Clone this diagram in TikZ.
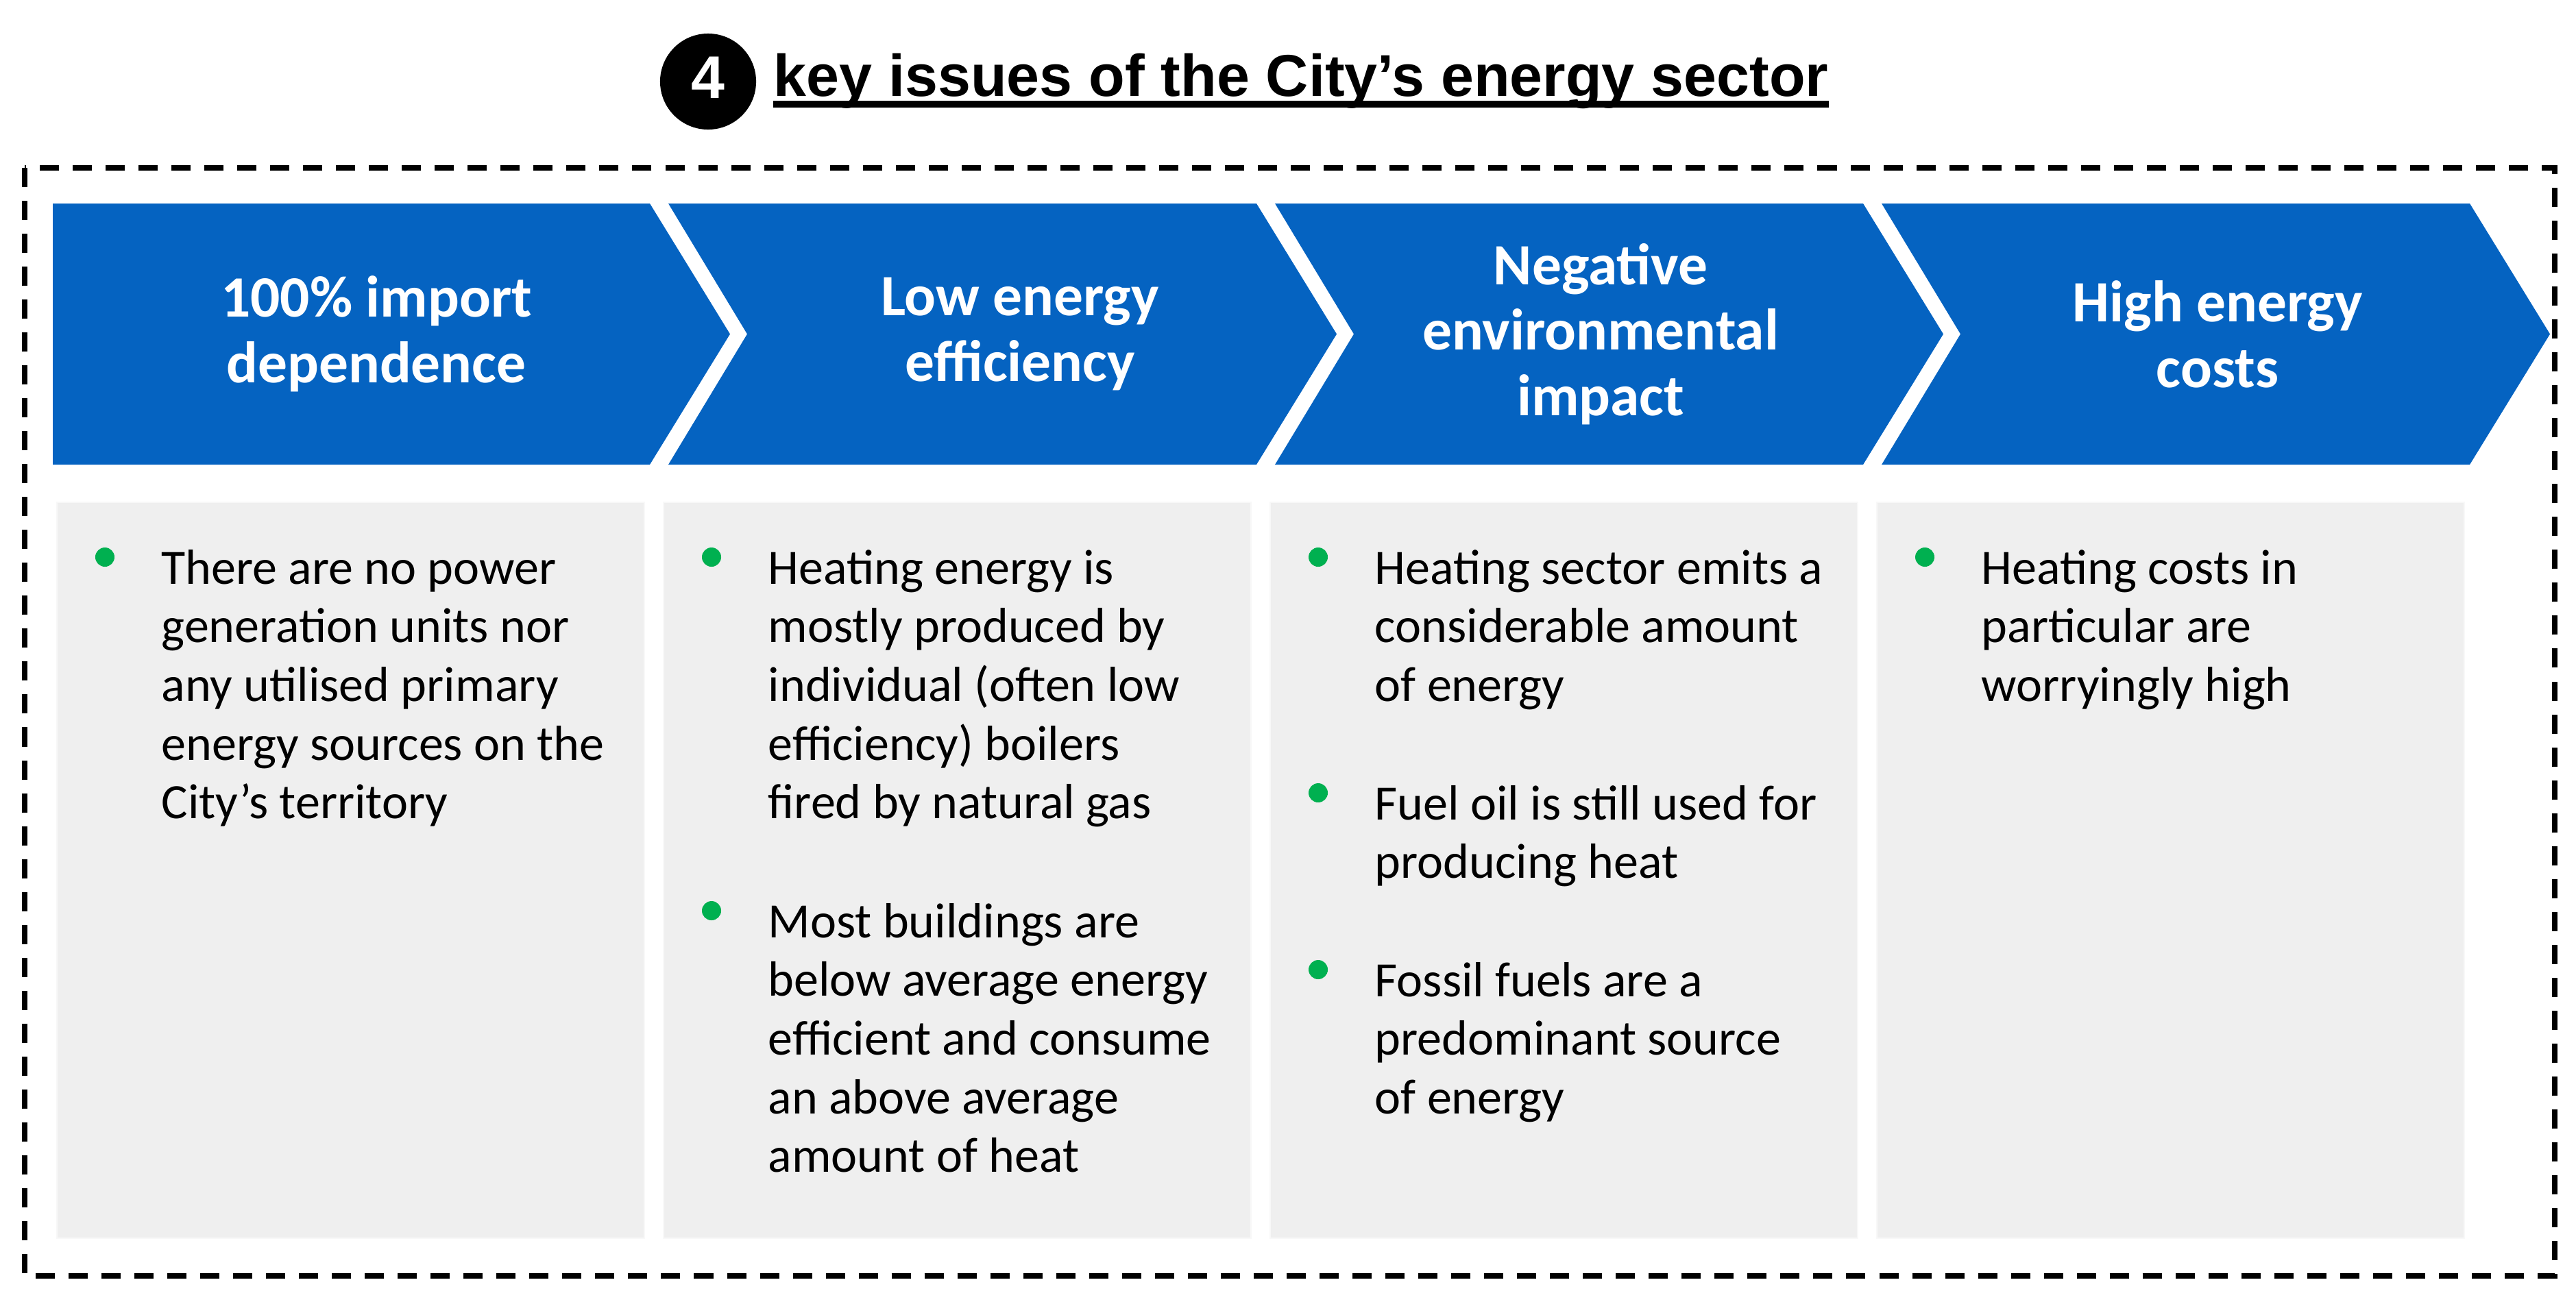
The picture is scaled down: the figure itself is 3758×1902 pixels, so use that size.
\documentclass[tikz,border=0pt]{standalone}
\usepackage{fontspec}
\setmainfont{Carlito}
\newfontfamily\titlefont{Liberation Sans}
\definecolor{chevblue}{HTML}{0563C1}
\definecolor{bulletgreen}{HTML}{00B050}
\definecolor{boxgrey}{HTML}{EFEFEF}
\definecolor{boxedge}{HTML}{F8F8F8}
\newcommand\toplines[1]{\begin{tabular}[t]{@{}l@{}}#1\end{tabular}}
\begin{document}
\begin{tikzpicture}[x=0.01cm,y=-0.01cm,
  chev/.style={fill=chevblue, draw=none},
  headtext/.style={text=white, font=\fontsize{24.3}{27.24}\selectfont\bfseries, align=center, inner sep=0pt},
  bodytext/.style={font=\fontsize{20.5}{24.38}\selectfont, anchor=base west, inner sep=0pt, text=black},
  bulletdot/.style={circle, fill=bulletgreen, minimum size=0.28cm, inner sep=0pt, draw=none},
  panel/.style={fill=boxgrey, draw=boxedge, line width=0.7pt},
  frame/.style={draw=black, line width=0.08cm, dash pattern=on 0.28cm off 0.2cm}]
\useasboundingbox (0,0) rectangle (3758,1902);

% title
\node[circle, fill=black, minimum size=1.4cm, inner sep=0pt] (num) at (1033,119) {};
\node[anchor=base, inner sep=0pt, text=white, font=\titlefont\bfseries\fontsize{25}{30}\selectfont] (numtxt) at (1033,143) {4};
\node[anchor=base west, inner sep=0pt, font=\titlefont\bfseries\fontsize{24.5}{29}\selectfont] (title) at (1128,140) {key issues of the City’s energy sector};
\draw[line width=0.1cm] ([yshift=-0.12cm]title.base west) -- ([yshift=-0.12cm]title.base east);

% dashed frame
\draw[frame] (36,245) rectangle (3727,1862);

% chevrons
\fill[chev] (77,297) -- (948,297) -- (1065,487.5) -- (948,678) -- (77,678) -- cycle;
\foreach \i in {0,1,2}{
  \fill[chev] ({975+885*\i},297) -- ({1833+885*\i},297) -- ({1950+885*\i},487.5)
    -- ({1833+885*\i},678) -- ({975+885*\i},678) -- ({1090+885*\i},487.5) -- cycle;
}
\node[headtext] (h1) at (549,487.5) {100\% import\\dependence};
\node[headtext] (h2) at (1488,487.5) {Low energy\\efficiency};
\node[headtext] (h3) at (2335,487.5) {Negative\\environmental\\impact};
\node[headtext] (h4) at (3235,487.5) {High energy\\costs};

% panels
\foreach \i in {0,1,2,3}{
  \fill[panel] ({83+885*\i},733) rectangle ({940+885*\i},1807);
}

% column 1
\node[bulletdot] (b11) at (153,813) {};
\node[bodytext] (t11) at (235,852) {\toplines{There are no power\\generation units nor\\any utilised primary\\energy sources on the\\City’s territory}};

% column 2
\node[bulletdot] (b21) at (1038,813) {};
\node[bodytext] (t21) at (1120,852) {\toplines{Heating energy is\\mostly produced by\\individual (often low\\efficiency) boilers\\fired by natural gas}};
\node[bulletdot] (b22) at (1038,1329) {};
\node[bodytext] (t22) at (1120,1368) {\toplines{Most buildings are\\below average energy\\efficient and consume\\an above average\\amount of heat}};

% column 3
\node[bulletdot] (b31) at (1923,813) {};
\node[bodytext] (t31) at (2005,852) {\toplines{Heating sector emits a\\considerable amount\\of energy}};
\node[bulletdot] (b32) at (1923,1157) {};
\node[bodytext] (t32) at (2005,1196) {\toplines{Fuel oil is still used for\\producing heat}};
\node[bulletdot] (b33) at (1923,1415) {};
\node[bodytext] (t33) at (2005,1454) {\toplines{Fossil fuels are a\\predominant source\\of energy}};

% column 4
\node[bulletdot] (b41) at (2808,813) {};
\node[bodytext] (t41) at (2890,852) {\toplines{Heating costs in\\particular are\\worryingly high}};
\end{tikzpicture}
\end{document}
